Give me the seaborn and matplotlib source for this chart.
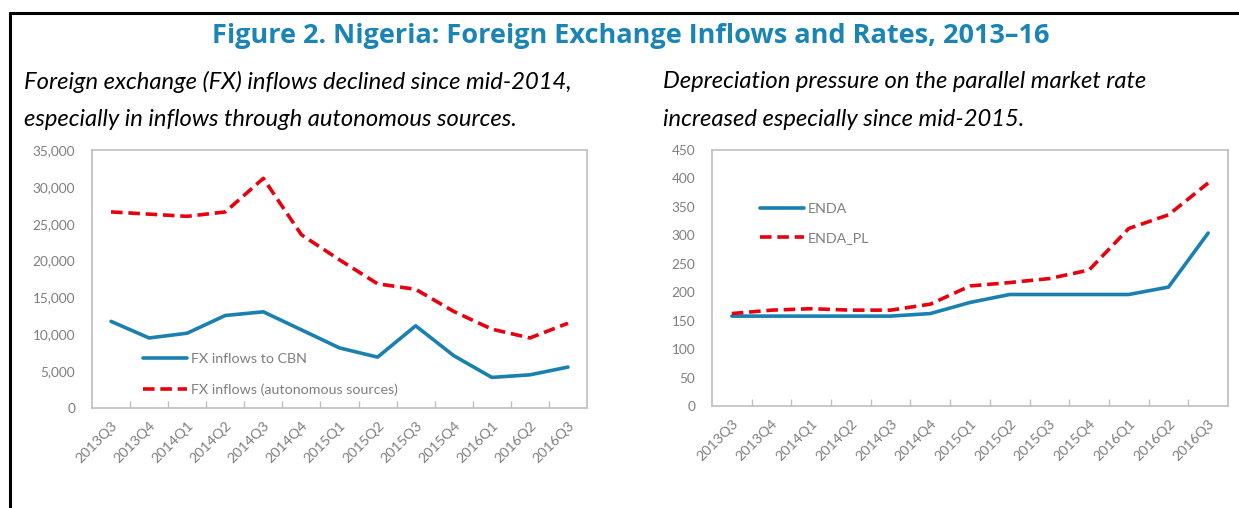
import matplotlib
matplotlib.use("Agg")
import matplotlib.pyplot as plt
import seaborn as sns
import pandas as pd
import numpy as np
from matplotlib.lines import Line2D

quarters = ["2013Q3", "2013Q4", "2014Q1", "2014Q2", "2014Q3", "2014Q4", "2015Q1",
            "2015Q2", "2015Q3", "2015Q4", "2016Q1", "2016Q2", "2016Q3"]
fx_cbn = [11750, 9500, 10150, 12550, 13050, 10600, 8150, 6900, 11150, 7100, 4150, 4500, 5550]
fx_auto = [26600, 26300, 26000, 26600, 31150, 23500, 20100, 16850, 16100, 13100, 10700, 9500, 11500]
enda = [158, 158, 158, 158, 158, 162.5, 182, 196, 196, 196, 196, 209, 304]
enda_pl = [162.5, 168.5, 171, 168.5, 168.5, 179, 211, 217, 224, 239, 312, 336, 392]

title = "Figure 2. Nigeria: Foreign Exchange Inflows and Rates, 2013\u201316"
sub_left = ["Foreign exchange (FX) inflows declined since mid-2014,",
            "especially in inflows through autonomous sources."]
sub_right = ["Depreciation pressure on the parallel market rate",
             "increased especially since mid-2015."]

BLUE = "#1a80b0"
RED = "#e8000e"
GRID = "#bfbfbf"
TICKC = "#7f7f7f"

sns.set_style("white")
plt.rcParams["font.family"] = ["Lato", "DejaVu Sans"]

fig = plt.figure(figsize=(12.39, 5.08), dpi=100)

# frame lines
fig.add_artist(Line2D([10/1239, 10/1239], [0, 1 - 13/508], color="black", lw=2.2,
                      transform=fig.transFigure))
fig.add_artist(Line2D([10/1239, 1], [1 - 13/508, 1 - 13/508], color="black", lw=2.2,
                      transform=fig.transFigure))

fig.text(631/1239, 1 - 36/508, title, ha="center", va="center", fontsize=19.5,
         fontweight="bold", color="#1a85b5", family=["Open Sans", "DejaVu Sans"])
for i, s in enumerate(sub_left):
    fig.text(24/1239, 1 - (82 + 38*i)/508, s, ha="left", va="center", fontsize=17.1,
             style="italic", color="black")
for i, s in enumerate(sub_right):
    fig.text(663/1239, 1 - (82 + 38*i)/508, s, ha="left", va="center", fontsize=17.1,
             style="italic", color="black")

x = np.arange(len(quarters))
df_left = pd.DataFrame({"x": np.concatenate([x, x]),
                        "val": fx_cbn + fx_auto,
                        "series": ["FX inflows to CBN"]*len(x) + ["FX inflows (autonomous sources)"]*len(x)})
df_right = pd.DataFrame({"x": np.concatenate([x, x]),
                         "val": enda + enda_pl,
                         "series": ["ENDA"]*len(x) + ["ENDA_PL"]*len(x)})

axL = fig.add_axes([92/1239, 1 - 408/508, (587-92)/1239, (408-150)/508])
axR = fig.add_axes([712/1239, 1 - 406/508, (1228-712)/1239, (406-150)/508])

def draw(ax, df, names, ymax, ystep, fmt):
    sns.lineplot(data=df, x="x", y="val", hue="series", style="series",
                 palette={names[0]: BLUE, names[1]: RED},
                 dashes={names[0]: "", names[1]: (3.2, 1.6)},
                 linewidth=2.6, ax=ax, legend=False, sort=False)
    ax.set_xlim(-0.5, len(quarters) - 0.5)
    ax.set_ylim(0, ymax)
    ax.set_yticks(np.arange(0, ymax + 1, ystep))
    ax.set_yticklabels([fmt(v) for v in np.arange(0, ymax + 1, ystep)])
    ax.set_xticks(x)
    ax.set_xticklabels(quarters, rotation=45, ha="right", rotation_mode="anchor")
    ax.set_xticks(np.arange(0.5, len(quarters) - 1, 1), minor=True)
    ax.tick_params(axis="x", which="major", length=0, pad=8, labelsize=10.3, labelcolor=TICKC)
    ax.tick_params(axis="x", which="minor", length=5, direction="in", color=GRID, width=1,
                   bottom=True)
    ax.tick_params(axis="y", length=0, pad=12, labelsize=9.8, labelcolor=TICKC)
    ax.set_xlabel("")
    ax.set_ylabel("")
    for sp in ax.spines.values():
        sp.set_color(GRID)
        sp.set_linewidth(1.2)
    ax.grid(False)

draw(axL, df_left, ["FX inflows to CBN", "FX inflows (autonomous sources)"], 35000, 5000,
     lambda v: f"{int(v):,}")
draw(axR, df_right, ["ENDA", "ENDA_PL"], 450, 50, lambda v: f"{int(v)}")

def legend(ax, names, loc_xy, spacing):
    handles = [Line2D([], [], color=BLUE, lw=2.6),
               Line2D([], [], color=RED, lw=2.6, ls=(0, (3.2, 1.6)))]
    lg = ax.legend(handles, names, loc="upper left", bbox_to_anchor=loc_xy,
                   bbox_transform=fig.transFigure, frameon=False, fontsize=10.3,
                   handlelength=3.05, handletextpad=0.28, labelspacing=spacing,
                   borderaxespad=0, borderpad=0)
    for t in lg.get_texts():
        t.set_color(TICKC)

legend(axL, ["FX inflows to CBN", "FX inflows (autonomous sources)"], (143/1239, 1 - 353/508), 1.3)
legend(axR, ["ENDA", "ENDA_PL"], (760/1239, 1 - 203/508), 1.2)

fig.savefig("out.png", dpi=100)
